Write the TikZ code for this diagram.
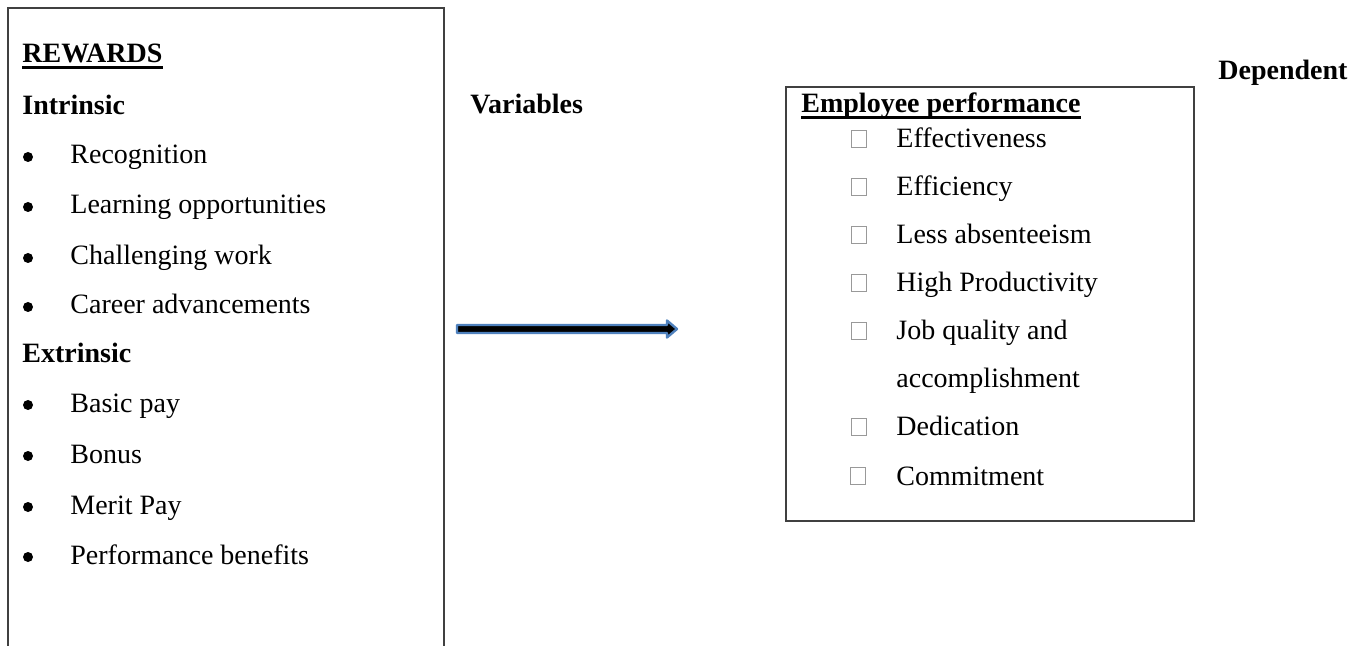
\documentclass[tikz,border=0pt]{standalone}
\usepackage{fontspec}
\setmainfont{Liberation Serif}
\usetikzlibrary{calc}
\definecolor{arrowblue}{RGB}{79,129,189}
\tikzstyle{frame}=[draw=black!75, line width=0.9pt]
\tikzstyle{txt}=[anchor=base west, inner sep=0pt, font=\fontsize{14pt}{16pt}\selectfont]
\tikzstyle{head}=[txt, font=\fontsize{14pt}{16pt}\selectfont\bfseries]
\tikzstyle{dot}=[circle, fill=black, inner sep=0pt, minimum size=5pt]
\tikzstyle{tickbox}=[draw=black!40, line width=0.4pt, inner sep=0pt, minimum width=7.5pt, minimum height=8.5pt, anchor=south west]
\tikzstyle{bigarrow}=[fill=black, draw=arrowblue, line width=1.2pt, line join=round]

\begin{document}
\begin{tikzpicture}[x=0.5pt, y=-0.5pt]
        \useasboundingbox (0,0) rectangle (1359,646);
        % left box, open at the bottom
        \draw[frame] (8,646) -- (8,8) -- (444,8) -- (444,646);
        \node[head] (rewards) at (22,63) {REWARDS};
        \draw[line width=1.2pt] ($(rewards.base west)+(0,4.5)$) -- ($(rewards.base east)+(0,4.5)$);
        \node[head] (intrinsic) at (22,115) {Intrinsic};
        \node[dot] (recognitionbullet) at (28,157) {};
        \node[txt] (recognition) at (70,164) {Recognition};
        \node[dot] (learningbullet) at (28,207) {};
        \node[txt] (learning) at (70,214) {Learning opportunities};
        \node[dot] (challengingbullet) at (28,258) {};
        \node[txt] (challenging) at (70,265) {Challenging work};
        \node[dot] (careerbullet) at (28,307) {};
        \node[txt] (career) at (70,314) {Career advancements};
        \node[head] (extrinsic) at (22,363) {Extrinsic};
        \node[dot] (basicpaybullet) at (28,405) {};
        \node[txt] (basicpay) at (70,412) {Basic pay};
        \node[dot] (bonusbullet) at (28,456) {};
        \node[txt] (bonus) at (70,463) {Bonus};
        \node[dot] (meritpaybullet) at (28,507) {};
        \node[txt] (meritpay) at (70,514) {Merit Pay};
        \node[dot] (benefitsbullet) at (28,557) {};
        \node[txt] (benefits) at (70,564) {Performance benefits};

        \node[head] (variables) at (470,114) {Variables};
        \node[head] (dependent) at (1218,80) {Dependent};

        % arrow between the two boxes
        \coordinate (arrowtail) at (457,329);
        \coordinate (arrowtip) at (677,329);
        \filldraw[bigarrow] ($(arrowtail)+(0,-4)$) -- ($(arrowtip)+(-10,-4)$) -- ($(arrowtip)+(-10,-8.5)$)
            -- (arrowtip) -- ($(arrowtip)+(-10,8.5)$) -- ($(arrowtip)+(-10,4)$) -- ($(arrowtail)+(0,4)$) -- cycle;

        % right box
        \draw[frame] (786,87) rectangle (1194,521);
        \node[head] (empperf) at (801,113) {Employee performance};
        \draw[line width=1.2pt] ($(empperf.base west)+(0,4.5)$) -- ($(empperf.base east)+(0,4.5)$);
        \node[tickbox] (effectivenessbox) at (851,148) {};
        \node[txt] (effectiveness) at (896,148) {Effectiveness};
        \node[tickbox] (efficiencybox) at (851,196) {};
        \node[txt] (efficiency) at (896,196) {Efficiency};
        \node[tickbox] (absenteeismbox) at (851,244) {};
        \node[txt] (absenteeism) at (896,244) {Less absenteeism};
        \node[tickbox] (productivitybox) at (851,292) {};
        \node[txt] (productivity) at (896,292) {High Productivity};
        \node[tickbox] (jobqualitybox) at (851,340) {};
        \node[txt] (jobquality) at (896,340) {Job quality and};
        \node[txt] (accomplishment) at (896,387) {accomplishment};
        \node[tickbox] (dedicationbox) at (851,436) {};
        \node[txt] (dedication) at (896,436) {Dedication};
        \node[tickbox] (commitmentbox) at (850,485) {};
        \node[txt] (commitment) at (896,485) {Commitment};
    \end{tikzpicture}
\end{document}
